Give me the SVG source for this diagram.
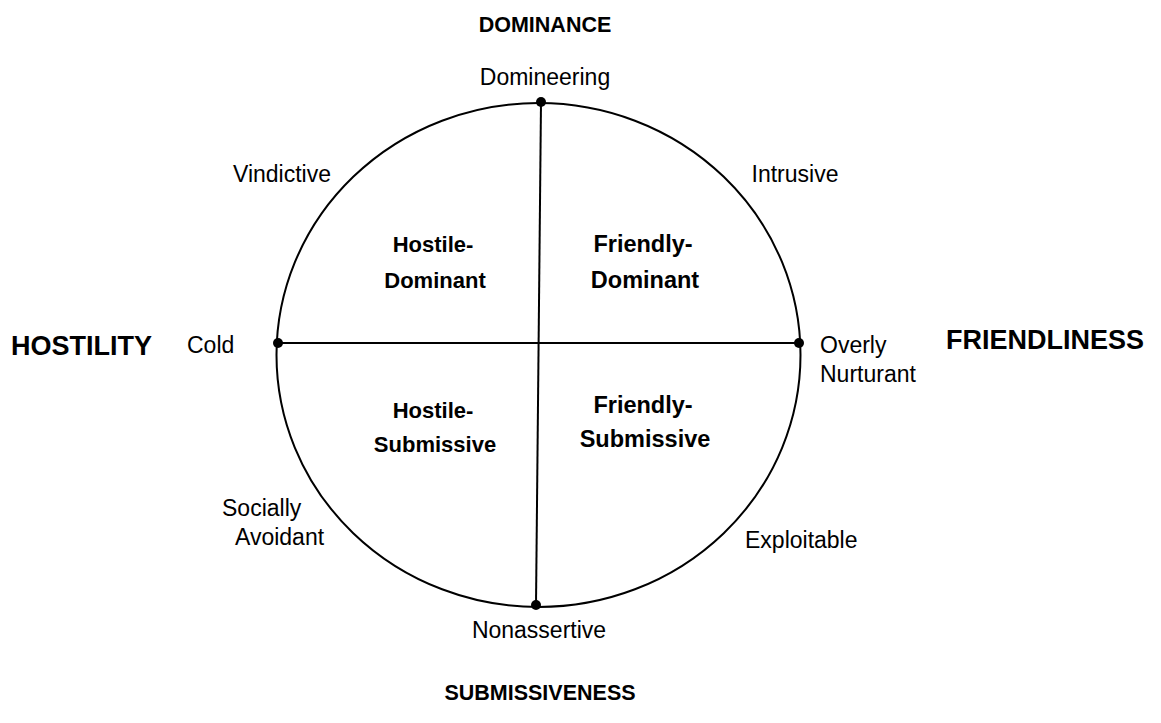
<svg xmlns="http://www.w3.org/2000/svg" width="1161" height="723" viewBox="0 0 1161 723">
<style>
.ax{font-family:"Liberation Sans",Arial,sans-serif;font-weight:bold;font-size:27px;fill:#000}
.axs{font-family:"Liberation Sans",Arial,sans-serif;font-weight:bold;font-size:21.5px;fill:#000;text-anchor:middle}
.lb{font-family:"Liberation Sans",Arial,sans-serif;font-size:23px;fill:#000}
.q{font-family:"Liberation Sans",Arial,sans-serif;font-weight:bold;font-size:22px;fill:#000;text-anchor:middle}
.qr{font-family:"Liberation Sans",Arial,sans-serif;font-weight:bold;font-size:23.5px;fill:#000;text-anchor:middle}
.ln{stroke:#000;stroke-width:2;fill:none}
.dot{fill:#000}
</style>
<rect width="1161" height="723" fill="#fff"/>
<g id="connectors">
<ellipse class="ln" cx="538.5" cy="355" rx="262" ry="252"/>
<line class="ln" x1="541" y1="102" x2="536" y2="605"/>
<line class="ln" x1="278" y1="343" x2="799" y2="343"/>
</g>
<g id="dots">
<circle class="dot" cx="541" cy="102" r="5"/>
<circle class="dot" cx="278" cy="343" r="5"/>
<circle class="dot" cx="799" cy="343" r="5"/>
<circle class="dot" cx="536" cy="605" r="5"/>
</g>
<g id="axis-labels">
<text class="axs" x="545" y="32">DOMINANCE</text>
<text class="axs" x="540" y="700">SUBMISSIVENESS</text>
<text class="ax" x="11" y="355">HOSTILITY</text>
<text class="ax" x="946" y="349">FRIENDLINESS</text>
</g>
<g id="point-labels">
<text class="lb" x="545" y="85" text-anchor="middle">Domineering</text>
<text class="lb" x="282" y="182" text-anchor="middle">Vindictive</text>
<text class="lb" x="795" y="182" text-anchor="middle">Intrusive</text>
<text class="lb" x="187" y="353">Cold</text>
<text class="lb" x="820" y="353">Overly</text>
<text class="lb" x="820" y="382">Nurturant</text>
<text class="lb" x="222" y="516">Socially</text>
<text class="lb" x="235" y="545">Avoidant</text>
<text class="lb" x="745" y="548">Exploitable</text>
<text class="lb" x="539" y="638" text-anchor="middle">Nonassertive</text>
</g>
<g id="quadrant-hd">
<text class="q" x="433" y="252">Hostile-</text>
<text class="q" x="435" y="288">Dominant</text>
</g>
<g id="quadrant-fd">
<text class="qr" x="643" y="252">Friendly-</text>
<text class="qr" x="645" y="288">Dominant</text>
</g>
<g id="quadrant-hs">
<text class="q" x="433" y="418">Hostile-</text>
<text class="q" x="435" y="452">Submissive</text>
</g>
<g id="quadrant-fs">
<text class="qr" x="643" y="413">Friendly-</text>
<text class="qr" x="645" y="447">Submissive</text>
</g>
</svg>
